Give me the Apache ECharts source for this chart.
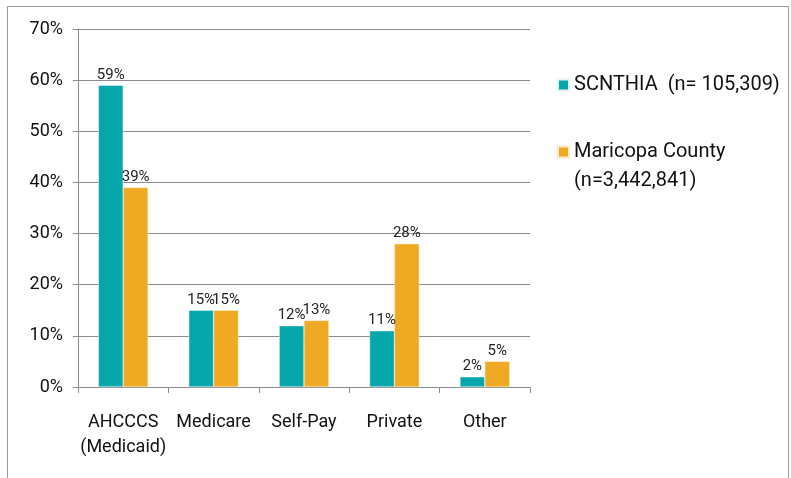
<!DOCTYPE html>
<html><head><meta charset="utf-8">
<script src="https://cdn.jsdelivr.net/npm/echarts@6/dist/echarts.min.js"></script>
<style>html,body{margin:0;padding:0;background:#fff}#c{width:791px;height:478px}</style>
</head><body><div id="c"></div>
<script>
var categories = ['AHCCCS\n(Medicaid)', 'Medicare', 'Self-Pay', 'Private', 'Other'];
var scnthia = [59, 15, 12, 11, 2];
var maricopa = [39, 15, 13, 28, 5];
var seriesNames = ['SCNTHIA  (n= 105,309)', 'Maricopa County\n(n=3,442,841)'];
var yTicks = [0, 10, 20, 30, 40, 50, 60, 70];

var FONT = 'Roboto, "Liberation Sans", Arial, sans-serif';
var chart = echarts.init(document.getElementById('c'));
var lbl = {show: true, position: 'top', distance: 3, formatter: '{c}%', color: '#222', fontSize: 15, fontFamily: FONT};
chart.setOption({
  animation: false,
  graphic: [{type: 'rect', shape: {x: 7.5, y: 6.5, width: 781, height: 500}, style: {fill: 'none', stroke: '#999', lineWidth: 1}}],
  grid: {left: 78, right: 261, top: 29, bottom: 91},
  legend: [{
    orient: 'vertical', left: 552, top: 65.5, itemWidth: 11, itemHeight: 11, itemGap: 9,
    icon: 'rect', selectedMode: false,
    data: [seriesNames[0], seriesNames[1]],
    formatter: function (name) { return name.indexOf('\n') >= 0 ? ' \n' + name : name; },
    textStyle: {fontSize: 20, fontFamily: FONT, color: '#111', lineHeight: 29}
  }],
  xAxis: {
    type: 'category', data: categories,
    axisLine: {lineStyle: {color: '#8c8c8c'}},
    axisTick: {show: true, length: 6, lineStyle: {color: '#8c8c8c'}},
    axisLabel: {interval: 0, fontSize: 18, fontFamily: FONT, color: '#111', lineHeight: 25, margin: 23}
  },
  yAxis: {
    type: 'value', min: 0, max: 70, interval: 10,
    axisLine: {show: true, lineStyle: {color: '#8c8c8c'}},
    axisTick: {show: true, length: 5, lineStyle: {color: '#8c8c8c'}},
    splitLine: {lineStyle: {color: '#8c8c8c'}},
    axisLabel: {fontSize: 18, fontFamily: FONT, color: '#111', margin: 15,
      formatter: function (v) { return yTicks.indexOf(v) >= 0 ? v + '%' : ''; }}
  },
  series: [
    {name: seriesNames[0], type: 'bar', data: scnthia, barGap: '0%', barCategoryGap: '45%',
     itemStyle: {color: '#05A6AC', borderColor: '#e6f4f4', borderWidth: 0.5}, label: lbl},
    {name: seriesNames[1], type: 'bar', data: maricopa,
     itemStyle: {color: '#EFA923', borderColor: '#fbeccf', borderWidth: 0.5}, label: lbl}
  ]
});
</script></body></html>
